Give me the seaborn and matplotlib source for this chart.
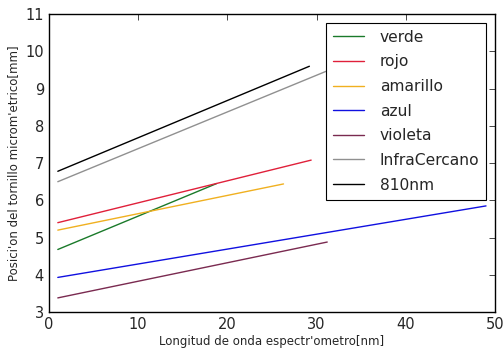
import matplotlib
matplotlib.use("Agg")
import matplotlib.pyplot as plt
import seaborn as sns
import pandas as pd

series = ["verde", "rojo", "amarillo", "azul", "violeta", "InfraCercano", "810nm"]
x_start = [1, 1, 1, 1, 1, 1, 1]
x_end = [18.8, 29.4, 26.3, 49, 31.2, 36, 29.2]
y_start = [4.68, 5.40, 5.20, 3.93, 3.38, 6.50, 6.78]
y_end = [6.45, 7.08, 6.44, 5.85, 4.88, 9.95, 9.60]
colors = ["#1a7a2a", "#e0203a", "#f0b020", "#1010e0", "#7a2a50", "#909090", "#000000"]

rows = []
for s, x0, x1, y0, y1 in zip(series, x_start, x_end, y_start, y_end):
    rows.append({"serie": s, "x": x0, "y": y0})
    rows.append({"serie": s, "x": x1, "y": y1})
df = pd.DataFrame(rows)

sns.set_style("white")
plt.rcParams['font.family'] = ['DejaVu Sans']
fig = plt.figure(figsize=(5.04, 3.53), dpi=100)
ax = fig.add_axes([0.097, 0.116, 0.885, 0.844])
sns.lineplot(data=df, x="x", y="y", hue="serie", hue_order=series,
             palette=dict(zip(series, colors)), linewidth=1.0, ax=ax, legend=True)
ax.set_xlim(0, 50)
ax.set_ylim(3, 11)
ax.set_xticks([0, 10, 20, 30, 40, 50])
ax.set_yticks(range(3, 12))
ax.tick_params(direction="in", top=True, right=True, length=4, labelsize=10.5, width=0.6)
for sp in ax.spines.values():
    sp.set_color("black")
    sp.set_linewidth(1.0)
ax.set_xlabel("Longitud de onda espectr'ometro[nm]", fontsize=8.5, labelpad=2)
ax.set_ylabel("Posici'on del tornillo microm'etrico[mm]", fontsize=8.5, labelpad=4)
leg = ax.legend(loc="upper right", fontsize=11.2, frameon=True, fancybox=False,
                edgecolor="black", framealpha=1, handlelength=2.0, borderpad=0.45,
                labelspacing=0.62, borderaxespad=0.55, handletextpad=1.0)
leg.get_frame().set_linewidth(0.8)
fig.savefig("out.png", dpi=100)
